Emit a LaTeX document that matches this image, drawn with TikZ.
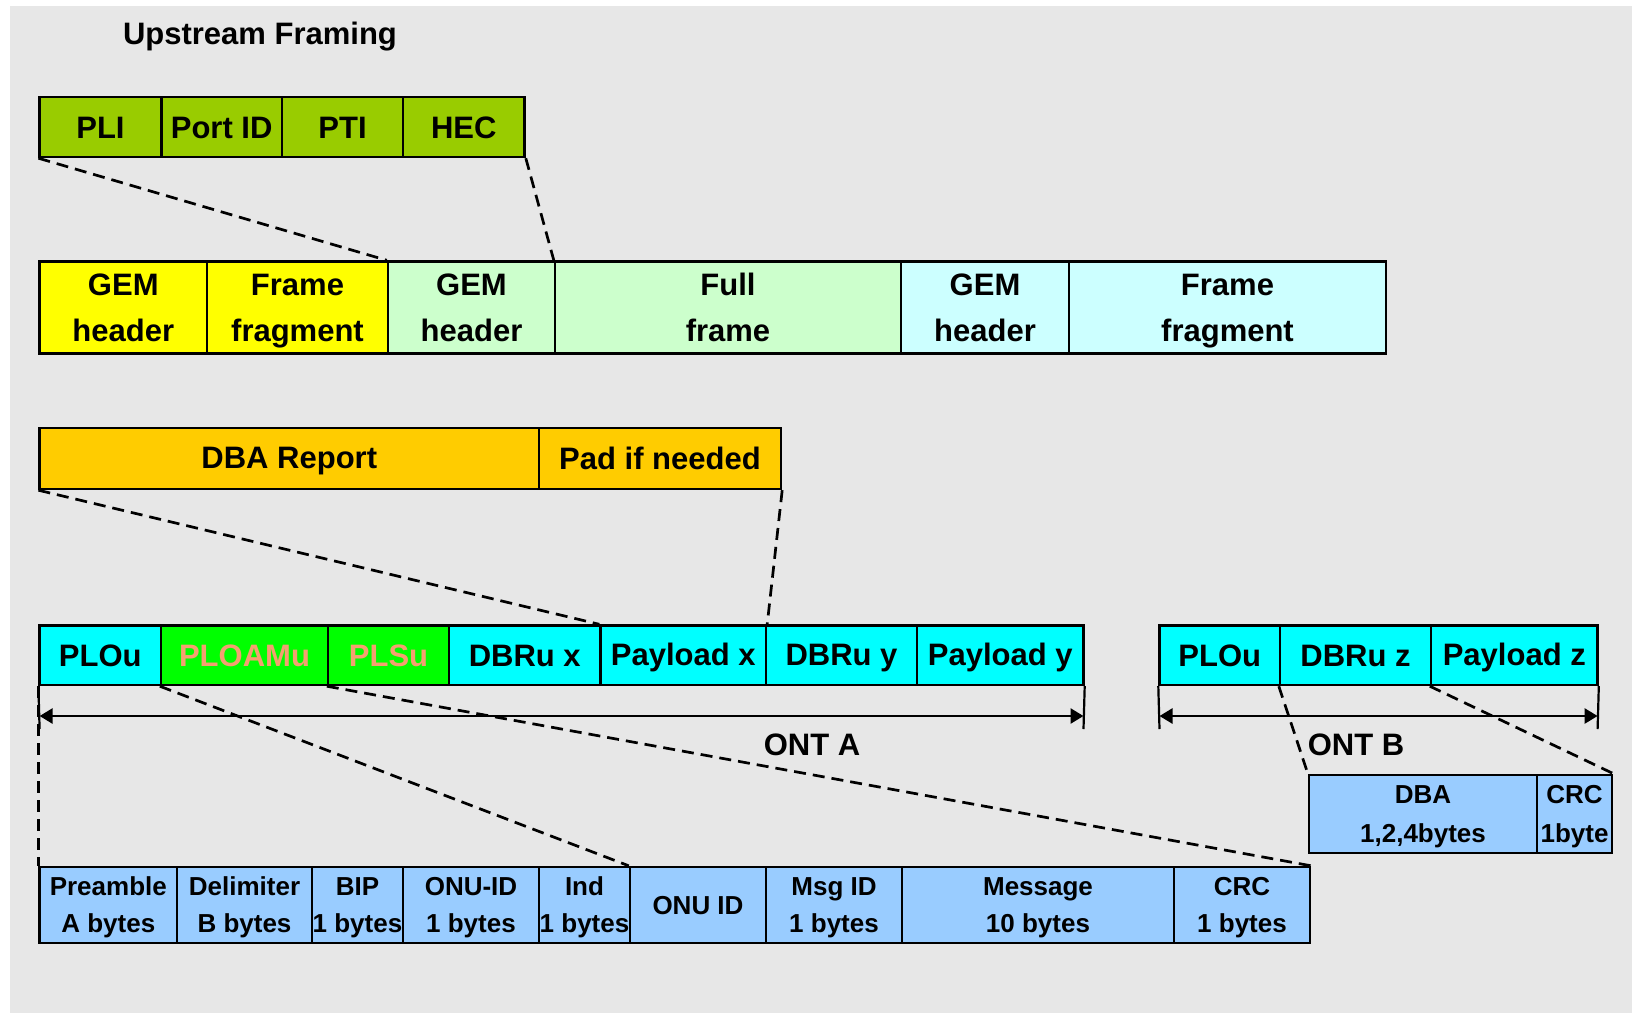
\documentclass[tikz,border=0pt]{standalone}
\usepackage{fontspec}
\setmainfont{Liberation Sans}
\usetikzlibrary{arrows.meta}
\definecolor{bggray}{HTML}{E7E7E7}
\definecolor{olivegreen}{HTML}{99CC00}
\definecolor{lgreen}{HTML}{CCFFCC}
\definecolor{lcyan}{HTML}{CCFFFF}
\definecolor{gold}{HTML}{FFCC00}
\definecolor{lblue}{HTML}{99CCFF}
\definecolor{aqua}{HTML}{00FFFF}
\definecolor{brightgreen}{HTML}{00FF00}
\definecolor{brightyellow}{HTML}{FFFF00}
\definecolor{salmon}{HTML}{F4A070}
% struts: two-line big, two-line small, two-line dba box, one-line big, one-line small
\newcommand\sA{\rule[-12.5pt]{0pt}{46pt}}
\newcommand\sB{\rule[-9.2pt]{0pt}{37pt}}
\newcommand\sC{\rule[-10.2pt]{0pt}{39pt}}
\newcommand\sD{\rule[-4.5pt]{0pt}{31pt}}
\newcommand\sE{\rule[-3.7pt]{0pt}{26pt}}
\newcommand\cellbox[8][]{\node[cell,#1,fill=#7,minimum width={(#4-#3)*1pt},minimum height={(#6-#5)*1pt}] (#2) at ({(#3+#4)/2},{(#5+#6)/2}) {#8};}
\begin{document}
\begin{tikzpicture}[x=1pt,y=-1pt,
  cell/.style={draw=black,line width=2.4pt,inner sep=0pt,align=center,font=\bfseries\fontsize{31}{46}\selectfont},
  small/.style={font=\bfseries\fontsize{26}{37}\selectfont},
  smallb/.style={font=\bfseries\fontsize{26}{39}\selectfont},
  dashline/.style={line width=2.7pt,dash pattern=on 12pt off 7pt},
  tick/.style={line width=2.2pt},
  dimarrow/.style={line width=2.6pt,{Triangle[length=13pt,width=15pt]}-{Triangle[length=13pt,width=15pt]}},
  lbl/.style={font=\bfseries\fontsize{31}{36}\selectfont,inner sep=0pt}]
\useasboundingbox (0,0) rectangle (1632,1013);
\fill[white] (0,0) rectangle (1632,1013);
\fill[bggray] (10,6) rectangle (1632,1013);
\node[lbl] (title) at (260,37) {Upstream Framing};
% row 1
\cellbox{pli}{39.6}{161.3}{97}{157}{olivegreen}{\sD PLI}
\cellbox{port}{161.3}{282}{97}{157}{olivegreen}{\sD Port ID}
\cellbox{pti}{282}{403}{97}{157}{olivegreen}{\sD PTI}
\cellbox{hec}{403}{524.6}{97}{157}{olivegreen}{\sD HEC}
% row 2
\cellbox{gemA}{39.6}{207}{262}{353}{brightyellow}{\sA GEM\\\sA header}
\cellbox{fragA}{207}{388}{262}{353}{brightyellow}{\sA Frame\\\sA fragment}
\cellbox{gemB}{388}{555}{262}{353}{lgreen}{\sA GEM\\\sA header}
\cellbox{full}{555}{901}{262}{353}{lgreen}{\sA Full\\\sA frame}
\cellbox{gemC}{901}{1069}{262}{353}{lcyan}{\sA GEM\\\sA header}
\cellbox{fragC}{1069}{1386}{262}{353}{lcyan}{\sA Frame\\\sA fragment}
% row 3
\cellbox{dba}{39.6}{539}{428}{489}{gold}{\sD DBA Report}
\cellbox{pad}{539}{781}{428}{489}{gold}{\sD Pad if needed}
% row 4
\cellbox{ploua}{39.6}{161}{625.5}{685}{aqua}{\sD PLOu}
\cellbox{ploam}{161}{328}{625.5}{685}{brightgreen}{\sD\textcolor{salmon}{PLOAMu}}
\cellbox{plsu}{328}{449}{625.5}{685}{brightgreen}{\sD\textcolor{salmon}{PLSu}}
\cellbox{dbrux}{449}{600.5}{625.5}{685}{aqua}{\sD DBRu x}
\cellbox{payx}{600.5}{766}{625.5}{685}{aqua}{\sD Payload x}
\cellbox{dbruy}{766}{917}{625.5}{685}{aqua}{\sD DBRu y}
\cellbox{payy}{917}{1083.5}{625.5}{685}{aqua}{\sD Payload y}
\cellbox{ploub}{1159.5}{1280}{625.5}{685}{aqua}{\sD PLOu}
\cellbox{dbruz}{1280}{1431}{625.5}{685}{aqua}{\sD DBRu z}
\cellbox{payz}{1431}{1597.6}{625.5}{685}{aqua}{\sD Payload z}
% DBA box
\cellbox[smallb]{dbaz}{1309}{1537}{776.5}{851}{lblue}{\sC DBA\\\sC 1,2,4bytes}
\cellbox[smallb]{crcz}{1537}{1612}{776.5}{851}{lblue}{\sC CRC\\\sC 1byte}
% bottom row
\cellbox[small]{pre}{39.6}{177}{867}{943}{lblue}{\sB Preamble\\\sB A bytes}
\cellbox[small]{del}{177}{312}{867}{943}{lblue}{\sB Delimiter\\\sB B bytes}
\cellbox[small]{bip}{312}{403}{867}{943}{lblue}{\sB BIP\\\sB 1 bytes}
\cellbox[small]{onuid}{403}{539}{867}{943}{lblue}{\sB ONU-ID\\\sB 1 bytes}
\cellbox[small]{ind}{539}{630}{867}{943}{lblue}{\sB Ind\\\sB 1 bytes}
\cellbox[small]{onu}{630}{766}{867}{943}{lblue}{\sE ONU ID}
\cellbox[small]{msgid}{766}{902}{867}{943}{lblue}{\sB Msg ID\\\sB 1 bytes}
\cellbox[small]{mess}{902}{1174}{867}{943}{lblue}{\sB Message\\\sB 10 bytes}
\cellbox[small]{crc}{1174}{1310}{867}{943}{lblue}{\sB CRC\\\sB 1 bytes}
% dashed connectors
\draw[dashline] (pli.south west) -- (gemB.north west);
\draw[dashline] (hec.south east) -- (full.north west);
\draw[dashline] (dba.south west) -- (payx.north west);
\draw[dashline] (pad.south east) -- (payx.north east);
\draw[dashline] (ploua.south west) -- (pre.north west);
\draw[dashline] (ploam.south west) -- (onu.north west);
\draw[dashline] (plsu.south west) -- (crc.north east);
\draw[dashline] (dbruz.south west) -- (dbaz.north west);
\draw[dashline] (payz.south west) -- (crcz.north east);
% ticks and dimension arrows
\coordinate (tA1) at (39.6,729);
\coordinate (tA2) at (1083.5,729);
\coordinate (tB1) at (1159.5,729);
\coordinate (tB2) at (1597.6,729);
\coordinate (aA1) at (39.6,716);
\coordinate (aA2) at (1083.5,716);
\coordinate (aB1) at (1159.5,716);
\coordinate (aB2) at (1597.6,716);
\draw[tick] (ploua.south west) -- (tA1);
\draw[tick] (payy.south east) -- (tA2);
\draw[tick] (ploub.south west) -- (tB1);
\draw[tick] (payz.south east) -- (tB2);
\draw[dimarrow] (aA1) -- (aA2);
\draw[dimarrow] (aB1) -- (aB2);
\node[lbl] (ontA) at (812,745) {ONT A};
\node[lbl] (ontB) at (1356,745) {ONT B};
\end{tikzpicture}
\end{document}
